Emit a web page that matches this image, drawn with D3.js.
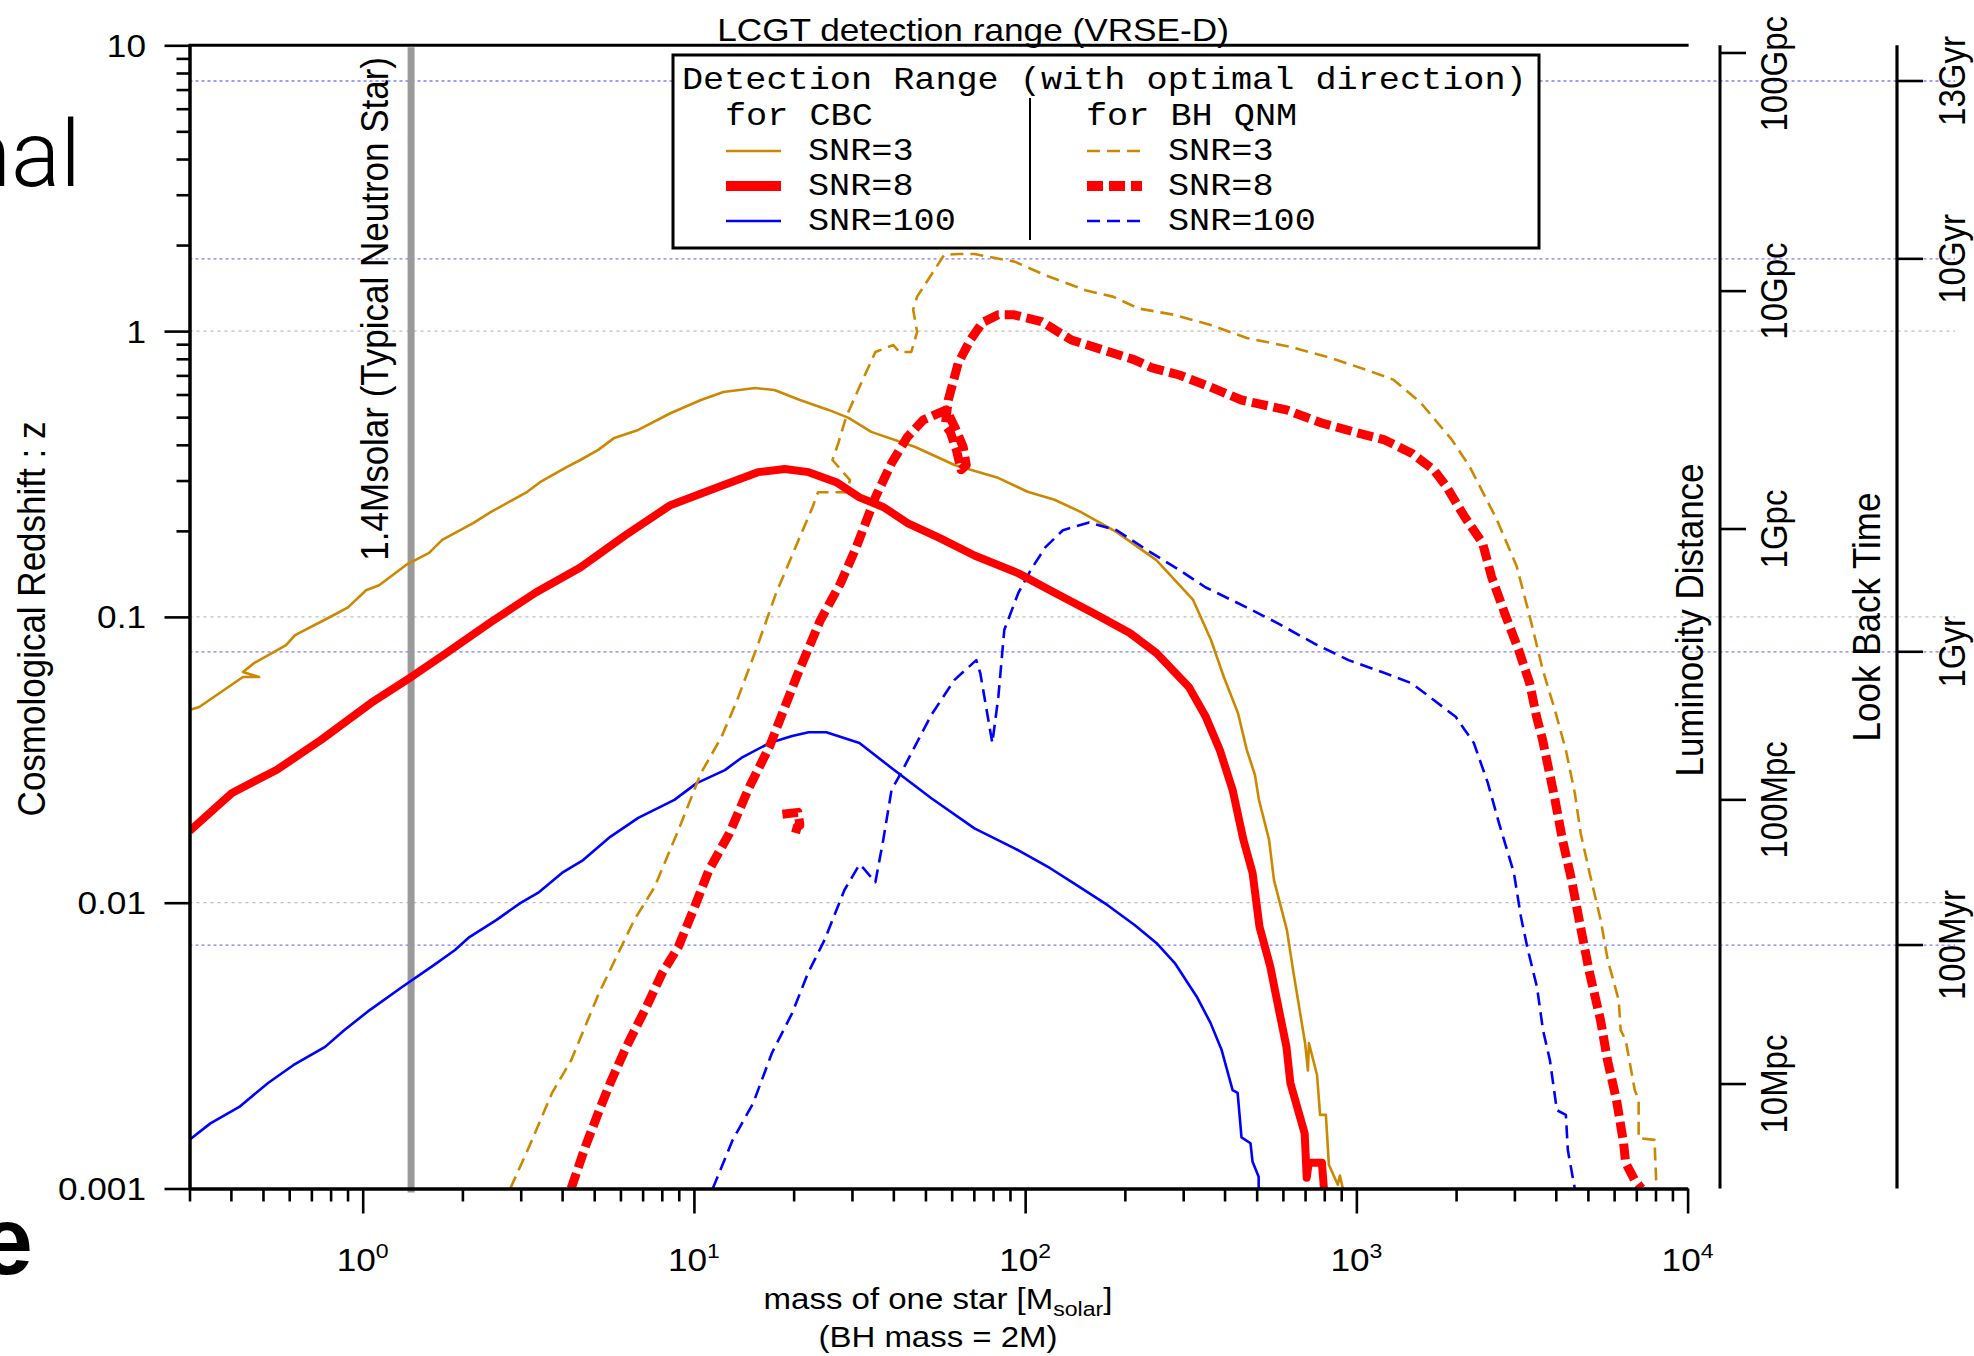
<!DOCTYPE html>
<html><head><meta charset="utf-8">
<script src="https://cdn.jsdelivr.net/npm/d3@7"></script>
<style>
html,body{margin:0;padding:0;background:#fff;}
svg{display:block;}
</style></head><body>
<svg id="chart" width="1974" height="1356"></svg>
<script>
// ---------------- DATA ----------------
// [mass of one star (Msolar), cosmological redshift z]
const cbcSnr3 = [[0.3,0.0472],[0.321,0.0484],[0.435,0.0616],[0.487,0.0616],[0.435,0.0642],[0.470,0.0689],[0.587,0.0796],[0.625,0.0864],[0.797,0.0999],[0.903,0.108],[1.024,0.124],[1.121,0.129],[1.352,0.152],[1.587,0.1675],[1.738,0.186],[2.155,0.213],[2.44,0.233],[3.14,0.274],[3.43,0.296],[4.14,0.335],[4.54,0.354],[5.14,0.384],[5.75,0.423],[6.79,0.451],[8.49,0.516],[10.5,0.574],[12.27,0.612],[15.3,0.632],[17.5,0.622],[20.9,0.574],[25.5,0.530],[29.3,0.497],[34.3,0.444],[46.6,0.393],[61.2,0.340],[83.2,0.306],[101.7,0.274],[122.7,0.257],[147,0.233],[189,0.198],[249,0.158],[321,0.115],[364,0.083],[398,0.0616],[439,0.0461],[467,0.0342],[494,0.0280],[508,0.0229],[545,0.0166],[564,0.0120],[617,0.00802],[644,0.00581],[700,0.00323],[714,0.00259],[719,0.00323],[761,0.00249],[777,0.00181],[809,0.00181],[826,0.00121],[879,0.00103],[892,0.00111],[910,0.001]];
const cbcSnr8 = [[0.3,0.0178],[0.403,0.0242],[0.551,0.0292],[0.748,0.0371],[1.06,0.0500],[1.40,0.0616],[1.79,0.0748],[2.44,0.0960],[3.34,0.122],[4.54,0.149],[6.21,0.193],[8.49,0.246],[11.8,0.284],[15.6,0.321],[18.8,0.329],[22.2,0.321],[26.9,0.296],[31.6,0.262],[37.4,0.242],[44.1,0.213],[55.1,0.189],[70.3,0.164],[95.5,0.142],[122,0.122],[161,0.103],[207,0.0878],[249,0.0748],[312,0.0569],[351,0.0447],[387,0.0342],[423,0.0248],[456,0.0166],[486,0.0127],[510,0.00823],[550,0.00596],[570,0.00483],[615,0.00313],[632,0.00234],[698,0.00156],[708,0.00109],[718,0.00123],[787,0.00123],[798,0.001]];
const cbcSnr100 = [[0.3,0.00148],[0.347,0.00169],[0.424,0.00193],[0.518,0.00234],[0.617,0.00270],[0.770,0.00313],[0.879,0.00358],[1.05,0.00421],[1.315,0.00507],[1.64,0.00605],[1.90,0.00683],[2.10,0.00758],[2.53,0.00869],[2.99,0.00997],[3.41,0.0109],[4.03,0.0128],[4.63,0.0141],[5.59,0.0170],[6.79,0.0198],[8.73,0.0229],[10.2,0.0262],[12.4,0.0291],[13.9,0.0321],[16.9,0.0362],[19.8,0.0383],[22.2,0.0395],[25.1,0.0395],[31.6,0.0362],[39.5,0.0296],[52.1,0.0232],[70.3,0.0182],[92.9,0.0155],[119,0.0132],[140,0.0117],[177,0.00982],[214,0.00836],[249,0.00723],[283,0.00615],[330,0.00468],[363,0.00379],[392,0.00305],[423,0.00221],[438,0.00216],[450,0.00151],[479,0.00144],[486,0.00124],[507,0.00110],[507,0.001]];
const qnmSnr3 = [[2.79,0.001],[3.18,0.00140],[3.73,0.00216],[4.26,0.00281],[5.17,0.00483],[6.60,0.00869],[7.59,0.0113],[8.97,0.0179],[10.5,0.0284],[12.1,0.0379],[13.5,0.0511],[15.5,0.0783],[17.7,0.121],[22.8,0.242],[23.7,0.273],[28.8,0.273],[29.6,0.301],[26.2,0.354],[27.3,0.406],[28.8,0.500],[31.6,0.637],[35.3,0.845],[40.0,0.894],[41.7,0.845],[45.3,0.845],[47.2,0.993],[45.9,1.19],[47.2,1.32],[57.0,1.85],[62.9,1.86],[70.3,1.86],[92.9,1.75],[115,1.57],[152,1.39],[184,1.32],[220,1.20],[282,1.14],[363,1.05],[467,0.946],[634,0.880],[838,0.805],[1075,0.731],[1297,0.675],[1565,0.561],[1941,0.417],[2200,0.335],[2655,0.219],[3050,0.150],[3340,0.100],[3655,0.0652],[3975,0.0472],[4290,0.0342],[4565,0.0242],[4755,0.0175],[5060,0.0127],[5465,0.00869],[5740,0.00630],[6195,0.00456],[6280,0.00358],[6505,0.00330],[6925,0.00221],[7115,0.00204],[7115,0.00150],[7945,0.00148],[8055,0.001]];
const qnmSnr8 = [[4.26,0.001],[4.70,0.00140],[5.18,0.00188],[5.59,0.00234],[6.25,0.00313],[7.18,0.00431],[8.02,0.00567],[8.97,0.00700],[9.96,0.00942],[11.1,0.0130],[12.8,0.0175],[14.7,0.0254],[16.9,0.0351],[20.4,0.0616],[24.1,0.0975],[27.7,0.131],[30.9,0.175],[35.3,0.262],[39.5,0.345],[44.1,0.426],[49.3,0.489],[57.8,0.530],[61.5,0.458],[65.0,0.393],[66.4,0.340],[64.1,0.327],[62.0,0.384],[59.4,0.444],[57.4,0.470],[58.6,0.574],[62.8,0.773],[68.3,0.931],[74.2,1.07],[82.9,1.14],[92.7,1.14],[112,1.08],[138,0.931],[172,0.859],[214,0.793],[242,0.743],[292,0.702],[363,0.637],[450,0.574],[615,0.530],[785,0.477],[982,0.444],[1217,0.416],[1468,0.374],[1712,0.327],[1873,0.285],[2122,0.224],[2405,0.181],[2560,0.138],[2803,0.103],[3090,0.0766],[3335,0.0587],[3500,0.0447],[3650,0.0371],[3965,0.0234],[4190,0.0166],[4465,0.0120],[4750,0.00822],[5060,0.00567],[5460,0.00388],[5730,0.00281],[6100,0.00204],[6410,0.00144],[6500,0.00123],[6920,0.00107],[7260,0.001]];
const qnmSnr8Islet = [[18.5,0.0204],[20.6,0.0207],[20.9,0.0187],[20.5,0.0184],[20.1,0.0169]];
const qnmSnr100 = [[11.4,0.001],[13.1,0.00148],[15.1,0.00199],[17.2,0.00298],[19.8,0.00411],[22.1,0.00567],[24.8,0.00741],[28.5,0.0111],[31.6,0.0136],[32.5,0.0132],[35.3,0.0118],[37.3,0.0166],[39.5,0.0248],[42.3,0.0286],[52.1,0.0454],[61.1,0.0601],[71.2,0.0706],[73.2,0.0636],[79.6,0.0362],[83.0,0.0525],[86.5,0.0900],[95.3,0.121],[104,0.146],[115,0.175],[130,0.201],[156,0.214],[189,0.201],[234,0.171],[292,0.146],[350,0.127],[466,0.108],[578,0.0951],[743,0.0809],[947,0.0706],[1217,0.0636],[1468,0.0586],[1712,0.0512],[1995,0.0447],[2263,0.0362],[2495,0.0262],[2695,0.0190],[2990,0.0127],[3140,0.00891],[3295,0.00683],[3510,0.00507],[3660,0.00358],[3840,0.00281],[4030,0.00188],[4290,0.00181],[4350,0.00136],[4565,0.001]];

const zMajorTicks = [0.001, 0.01, 0.1, 1, 10];
const zTickLabels = ["0.001", "0.01", "0.1", "1", "10"];
const zGridValues = [0.01, 0.1, 1];
const massDecades = [1, 10, 100, 1000, 10000];
const massExponents = ["0", "1", "2", "3", "4"];
const neutronStarMass = 1.4;
const distanceLabels = ["100Gpc", "10Gpc", "1Gpc", "100Mpc", "10Mpc"];
const distanceZ = [9.4, 1.38, 0.203, 0.0229, 0.00232];
const lookbackLabels = ["13Gyr", "10Gyr", "1Gyr", "100Myr"];
const lookbackZ = [7.5, 1.79, 0.0755, 0.00711];

const seriesNames = ["SNR=3", "SNR=8", "SNR=100"];

// ---------------- SETUP ----------------
const svg = d3.select("#chart");
const SX = 1.1;
const SANS = "'Liberation Sans', Arial, Helvetica, sans-serif";
const MONO = "'Liberation Mono', 'Courier New', monospace";
const GOLD = "#cc8800", RED = "#ff0000", BLUE = "#0000ff";

const x = d3.scaleLog().domain([0.3, 1e4]).range([189.5, 1687.6]);
const y = d3.scaleLog().domain([0.001, 10]).range([1188.5, 45.3]);
const X0 = x.range()[0], X1 = x.range()[1], Y0 = y.range()[0], Y1 = y.range()[1];
const LD_X = 1720, LB_X = 1897, GRID_END = 1955;

function label(parent, px, py, str, o) {
  o = o || {};
  const t = parent.append("text")
    .attr("transform", `translate(${px},${py}) scale(${o.stretch || SX},1)` + (o.rotate ? ` rotate(${o.rotate})` : ""))
    .attr("font-family", o.family || SANS)
    .attr("font-size", o.size || 32)
    .attr("font-weight", o.weight || "normal")
    .attr("text-anchor", o.anchor || "start")
    .attr("fill", "#000");
  if (str !== null) t.text(str);
  return t;
}

// slide fragments (cropped in the original as well)
svg.append("text").attr("x", 81).attr("y", 186).attr("text-anchor", "end")
  .attr("font-family", "Roboto, Lato, 'Open Sans', sans-serif").attr("font-weight", 300)
  .attr("font-size", 92).text("nal");
svg.append("text").attr("x", 33).attr("y", 1274).attr("text-anchor", "end")
  .attr("font-family", SANS).attr("font-weight", "bold")
  .attr("font-size", 96).text("e");

// gridlines
const grid = svg.append("g");
grid.selectAll("line.gz").data(zGridValues).join("line")
  .attr("x1", X0).attr("x2", GRID_END).attr("y1", d => y(d)).attr("y2", d => y(d))
  .attr("stroke", "#bdbdbd").attr("stroke-width", 1.3).attr("stroke-dasharray", "3,4");
grid.selectAll("line.gb").data(lookbackZ).join("line")
  .attr("x1", X0).attr("x2", GRID_END).attr("y1", d => y(d)).attr("y2", d => y(d))
  .attr("stroke", "#7f7fff").attr("stroke-width", 1.3).attr("stroke-dasharray", "3,3");

// neutron star marker
svg.append("line").attr("x1", x(neutronStarMass)).attr("x2", x(neutronStarMass))
  .attr("y1", Y1 + 2).attr("y2", Y0 + 4).attr("stroke", "#9a9a9a").attr("stroke-width", 7);
label(svg, 388, 57, "1.4Msolar (Typical Neutron Star)", {size: 35, anchor: "end", rotate: -90});

// curves
svg.append("clipPath").attr("id", "clip").append("rect")
  .attr("x", X0).attr("y", Y1).attr("width", X1 - X0).attr("height", Y0 - Y1);
const plot = svg.append("g").attr("clip-path", "url(#clip)");
const line = d3.line().x(d => x(d[0])).y(d => y(d[1]));
const curves = [
  {data: cbcSnr3, color: GOLD, w: 2.6, dash: null},
  {data: cbcSnr100, color: BLUE, w: 2.6, dash: null},
  {data: qnmSnr3, color: GOLD, w: 2.6, dash: "13,7"},
  {data: qnmSnr100, color: BLUE, w: 2.6, dash: "13,7"},
  {data: cbcSnr8, color: RED, w: 8, dash: null},
  {data: qnmSnr8, color: RED, w: 9, dash: "16,6"},
  {data: qnmSnr8Islet, color: RED, w: 9, dash: "16,6"}
];
plot.selectAll("path.c").data(curves).join("path")
  .attr("d", d => line(d.data)).attr("fill", "none")
  .attr("stroke", d => d.color).attr("stroke-width", d => d.w)
  .attr("stroke-dasharray", d => d.dash).attr("stroke-linejoin", "round");

// legend
const lg = svg.append("g");
lg.append("rect").attr("x", 673).attr("y", 55).attr("width", 866).attr("height", 193)
  .attr("fill", "#fff").attr("stroke", "#000").attr("stroke-width", 3);
const M = {family: MONO, size: 32};
label(lg, 682, 89, "Detection Range (with optimal direction)", M);
label(lg, 725, 125, "for CBC", M);
label(lg, 1086, 125, "for BH QNM", M);
lg.append("line").attr("x1", 1030).attr("x2", 1030).attr("y1", 98).attr("y2", 240)
  .attr("stroke", "#000").attr("stroke-width", 2);
const rowY = [160, 195, 230];
const cbcStyles = [{c: GOLD, w: 2.6}, {c: RED, w: 10}, {c: BLUE, w: 2.6}];
const qnmStyles = [{c: GOLD, w: 2.6, d: "13,7"}, {c: RED, w: 10, d: "16,6"}, {c: BLUE, w: 2.6, d: "13,7"}];
seriesNames.forEach((n, i) => {
  lg.append("line").attr("x1", 726).attr("x2", 781).attr("y1", rowY[i] - 9).attr("y2", rowY[i] - 9)
    .attr("stroke", cbcStyles[i].c).attr("stroke-width", cbcStyles[i].w);
  lg.append("line").attr("x1", 1087).attr("x2", 1142).attr("y1", rowY[i] - 9).attr("y2", rowY[i] - 9)
    .attr("stroke", qnmStyles[i].c).attr("stroke-width", qnmStyles[i].w).attr("stroke-dasharray", qnmStyles[i].d);
  label(lg, 808, rowY[i], n, M);
  label(lg, 1168, rowY[i], n, M);
});

// axes
function minorTicks(lo, hi) {
  const out = [];
  for (let e = -1; e <= 4; e++) for (let k = 2; k <= 9; k++) {
    const v = k * Math.pow(10, e);
    if (v >= lo - 1e-12 && v <= hi + 1e-12) out.push(v);
  }
  return out;
}
function styleAxis(g) {
  g.selectAll("path.domain").attr("stroke", "#000").attr("stroke-width", 3);
  g.selectAll(".tick line").attr("stroke", "#000").attr("stroke-width", 2.6);
  g.selectAll(".tick text").remove();
}
const yMaj = svg.append("g").attr("transform", `translate(${X0},0)`)
  .call(d3.axisLeft(y).tickValues(zMajorTicks).tickSize(25).tickSizeOuter(0).tickFormat(""));
styleAxis(yMaj);
const yMin = svg.append("g").attr("transform", `translate(${X0},0)`)
  .call(d3.axisLeft(y).tickValues(minorTicks(0.001, 10)).tickSize(13).tickSizeOuter(0).tickFormat(""));
styleAxis(yMin);
const xMaj = svg.append("g").attr("transform", `translate(0,${Y0})`)
  .call(d3.axisBottom(x).tickValues(massDecades).tickSize(25).tickSizeOuter(0).tickFormat(""));
styleAxis(xMaj);
const xMin = svg.append("g").attr("transform", `translate(0,${Y0})`)
  .call(d3.axisBottom(x).tickValues(minorTicks(0.3, 1e4)).tickSize(13).tickSizeOuter(0).tickFormat(""));
styleAxis(xMin);
svg.append("line").attr("x1", X0 - 1).attr("x2", X1 + 1).attr("y1", Y1).attr("y2", Y1)
  .attr("stroke", "#000").attr("stroke-width", 3);

// y tick labels
zMajorTicks.forEach((v, i) => label(svg, 146, y(v) + 11.5, zTickLabels[i], {size: 32, anchor: "end"}));
// x tick labels
massDecades.forEach((v, i) => {
  const t = label(svg, x(v), 1271, null, {size: 32, anchor: "middle"});
  t.append("tspan").text("10");
  t.append("tspan").attr("font-size", 21).attr("dy", -13).text(massExponents[i]);
});

// titles
label(svg, 973, 41, "LCGT detection range (VRSE-D)", {size: 32, anchor: "middle"});
label(svg, 45, 619, "Cosmological Redshift : z", {size: 35, anchor: "middle", rotate: -90});
const xt = label(svg, 938, 1309, null, {size: 30, anchor: "middle"});
xt.append("tspan").text("mass of one star [M");
xt.append("tspan").attr("font-size", 21).attr("dy", 7).text("solar");
xt.append("tspan").attr("dy", -7).text("]");
label(svg, 938, 1347, "(BH mass = 2M)", {size: 30, anchor: "middle"});

// luminosity distance axis
const ld = svg.append("g");
ld.append("line").attr("x1", LD_X).attr("x2", LD_X).attr("y1", Y1).attr("y2", Y0)
  .attr("stroke", "#000").attr("stroke-width", 3);
ld.selectAll("line.t").data(distanceZ).join("line")
  .attr("x1", LD_X).attr("x2", LD_X + 26).attr("y1", d => y(d)).attr("y2", d => y(d))
  .attr("stroke", "#000").attr("stroke-width", 2.6);
distanceZ.forEach((z, i) => {
  const t = label(ld, 0, 0, distanceLabels[i], {size: 33, anchor: "middle", rotate: -90});
  const len = t.node().getComputedTextLength();
  const cy = Math.max(y(z), 16 + len / 2);
  t.attr("transform", `translate(1787,${cy}) scale(${SX},1) rotate(-90)`);
});
label(svg, 1703, 620, "Luminocity Distance", {size: 35, anchor: "middle", rotate: -90});

// look back time axis
const lb = svg.append("g");
lb.append("line").attr("x1", LB_X).attr("x2", LB_X).attr("y1", Y1).attr("y2", Y0)
  .attr("stroke", "#000").attr("stroke-width", 3.2);
lb.selectAll("line.t").data(lookbackZ).join("line")
  .attr("x1", LB_X).attr("x2", LB_X + 26).attr("y1", d => y(d)).attr("y2", d => y(d))
  .attr("stroke", "#000").attr("stroke-width", 2.6);
lookbackZ.forEach((z, i) => {
  const t = label(lb, 0, 0, lookbackLabels[i], {size: 33, anchor: "middle", rotate: -90});
  const len = t.node().getComputedTextLength();
  const cy = Math.max(y(z), 16 + len / 2);
  t.attr("transform", `translate(1965,${cy}) scale(${SX},1) rotate(-90)`);
});
label(svg, 1880, 617, "Look Back Time", {size: 35, anchor: "middle", rotate: -90});
</script>
</body></html>
